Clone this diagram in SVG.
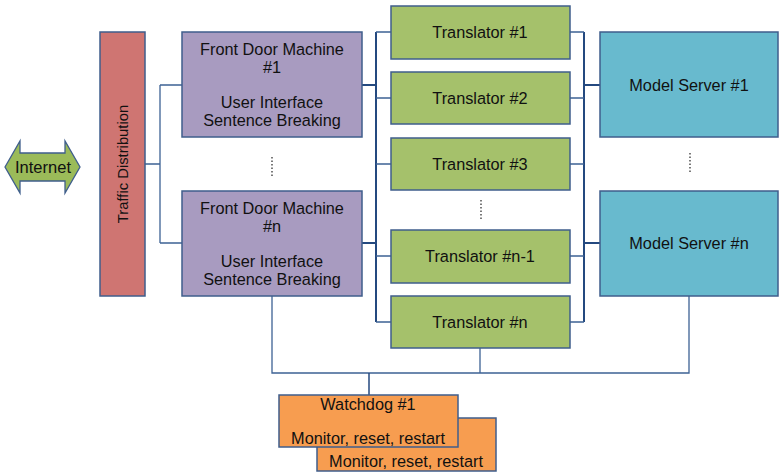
<svg xmlns="http://www.w3.org/2000/svg" width="779" height="475" viewBox="0 0 779 475">
<style>
text{font-family:"Liberation Sans",Arial,sans-serif;font-size:16.3px;fill:#111;text-anchor:middle}
.box{stroke:#3F5E8C;stroke-width:1.5}
.fd{fill:#A89BC0}
.tr{fill:#A5C16B}
.ms{fill:#68BACE}
.wd{fill:#F79D50}
.td{fill:#CF7572}
.ln{fill:none;stroke:#3D6294;stroke-width:1.3}
.bus{fill:none;stroke:#24497F;stroke-width:2}
.dot{stroke:#333;stroke-width:1.3;stroke-dasharray:1.5 2}
</style>
<g id="connectors">
<path class="ln" d="M145 164H160M160 85V243M160 85H182M160 243H182"/>
<path class="bus" d="M376 32V322M362 85H376M362 243H376"/>
<path class="ln" d="M376 32H391M376 98H391M376 164H391M376 256H391M376 322H391"/>
<path class="bus" d="M584 32V322M584 85H600M584 243H600"/>
<path class="ln" d="M570 32H584M570 98H584M570 164H584M570 256H584M570 322H584"/>
<path class="ln" d="M272 296V373H689V296M480 348V373"/>
<path class="bus" d="M369 373V395" style="stroke-width:1.5"/>
<line class="dot" x1="272" y1="157" x2="272" y2="178"/>
<line class="dot" x1="481" y1="200" x2="481" y2="220"/>
<line class="dot" x1="690" y1="153" x2="690" y2="174"/>
</g>
<g id="internet">
<path d="M5 167L20 141V153H65V141L80 167L65 193V181H20V193Z" fill="#9BBB59" stroke="#3F5E8C" stroke-width="1.3"/>
<text x="43" y="173" style="font-size:16.5px">Internet</text>
</g>
<g id="traffic">
<rect class="box td" x="100" y="32" width="45" height="264"/>
<text transform="translate(128 164) rotate(-90)" style="font-size:14.8px">Traffic Distribution</text>
</g>
<g id="fd1">
<rect class="box fd" x="182" y="32" width="180" height="105"/>
<text x="272" y="55">Front Door Machine</text>
<text x="272" y="73">#1</text>
<text x="272" y="108">User Interface</text>
<text x="272" y="126">Sentence Breaking</text>
</g>
<g id="fdn">
<rect class="box fd" x="182" y="191" width="180" height="105"/>
<text x="272" y="214">Front Door Machine</text>
<text x="272" y="232">#n</text>
<text x="272" y="267">User Interface</text>
<text x="272" y="285">Sentence Breaking</text>
</g>
<g id="tr1"><rect class="box tr" x="391" y="6" width="179" height="53"/><text x="480" y="38">Translator #1</text></g>
<g id="tr2"><rect class="box tr" x="391" y="72" width="179" height="52"/><text x="480" y="104">Translator #2</text></g>
<g id="tr3"><rect class="box tr" x="391" y="138" width="179" height="52"/><text x="480" y="170">Translator #3</text></g>
<g id="trn1"><rect class="box tr" x="391" y="230" width="179" height="53"/><text x="480" y="262">Translator #n-1</text></g>
<g id="trn"><rect class="box tr" x="391" y="296" width="179" height="52"/><text x="480" y="328">Translator #n</text></g>
<g id="ms1"><rect class="box ms" x="600" y="32" width="178" height="105"/><text x="689" y="91">Model Server #1</text></g>
<g id="msn"><rect class="box ms" x="600" y="191" width="178" height="105"/><text x="689" y="249">Model Server #n</text></g>
<g id="wd2">
<rect class="box wd" x="317" y="418" width="179" height="53"/>
<text x="406" y="467">Monitor, reset, restart</text>
</g>
<g id="wd1">
<rect class="box wd" x="279" y="395" width="179" height="52"/>
<text x="368" y="410">Watchdog #1</text>
<text x="368" y="444">Monitor, reset, restart</text>
</g>
</svg>
